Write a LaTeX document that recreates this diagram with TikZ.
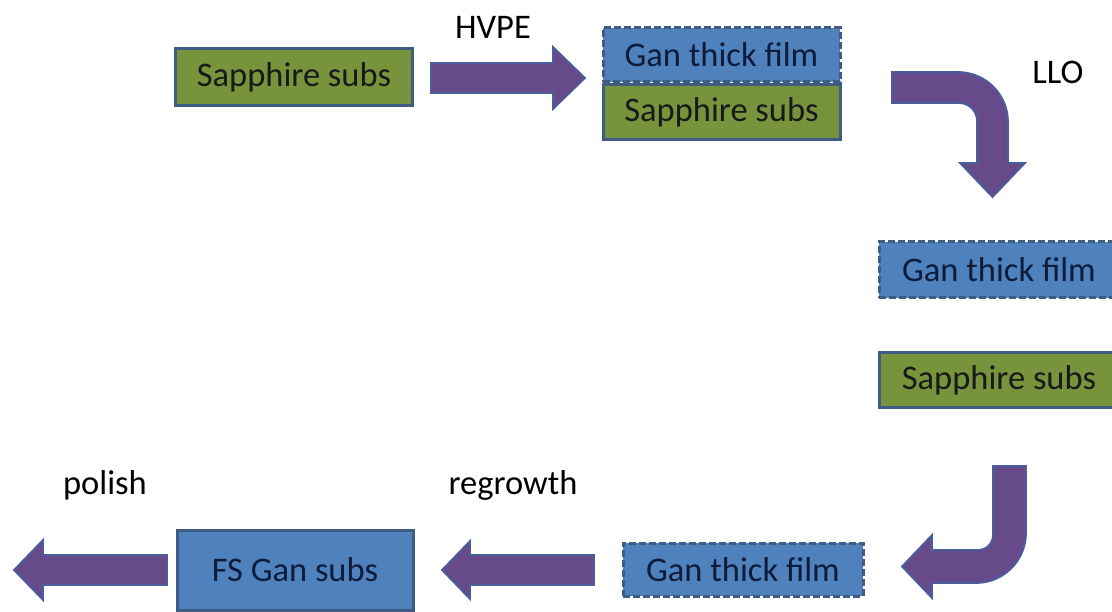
\documentclass[tikz,border=0pt]{standalone}
\usepackage{fontspec}
\setmainfont{Carlito}
\usepackage{tikz}
\usetikzlibrary{positioning}
\definecolor{subgreen}{HTML}{77933C}
\definecolor{filmblue}{HTML}{4F81BD}
\definecolor{boxedge}{HTML}{3F5C84}
\definecolor{arrowfill}{HTML}{664A8A}
\definecolor{arrowedge}{HTML}{4A5E9E}
\definecolor{filmtext}{HTML}{0E1C3C}

\begin{document}
\begin{tikzpicture}[
    x=1pt, y=-1pt,
    layer/.style={rectangle, draw=boxedge, line width=3pt, minimum width=237pt, inner sep=0pt, font=\fontsize{34.5}{40}\selectfont},
    sapphire/.style={layer, fill=subgreen, text=black!90, minimum height=55pt},
    film/.style={layer, fill=filmblue, text=filmtext, minimum height=54pt, dash pattern=on 7pt off 3pt},
    substrate/.style={layer, fill=filmblue, text=filmtext, minimum height=80pt},
    blockarrow/.style={fill=arrowfill, draw=arrowedge, line width=1.8pt, line join=miter},
    step label/.style={font=\fontsize{34.5}{40}\selectfont, text=black}
]
\clip (0,0) rectangle (1112,612);

% starting substrate
\node[sapphire, minimum height=57pt] (sapphireA) at (294,77.5) {Sapphire subs};

% after HVPE growth
\node[film] (filmA) at (721.5,55) {Gan thick film};
\node[sapphire, below=0pt of filmA] (sapphireB) {Sapphire subs};

% after laser lift-off
\node[film, minimum height=56pt, minimum width=240pt] (filmB) at (999,270) {Gan thick film};
\node[sapphire, minimum width=240pt, below=52pt of filmB] (sapphireC) {Sapphire subs};

% regrowth and final substrate
\node[film, minimum width=240pt, minimum height=53pt] (filmC) at (743,569.5) {Gan thick film};
\node[substrate, minimum width=236pt] (fsgan) at (295,570) {FS Gan subs};

% process labels
\node[step label] (hvpe) at (493,27) {HVPE};
\node[step label] (llo) at (1058,72) {LLO};
\node[step label] (regrowth) at (513,485) {regrowth};
\node[step label] (polish) at (105,485) {polish};

% block arrows
\draw[blockarrow] (431,63) -- (553,63) -- (553,47) -- (585,78) -- (553,109) -- (553,93) -- (431,93) -- cycle;
\draw[blockarrow] (892,72) -- (958,72) arc[start angle=-90, end angle=0, radius=50]
    -- (1008,163) -- (1025,163) -- (992.5,197) -- (960,163) -- (977,163) -- (977,121)
    arc[start angle=0, end angle=-90, radius=18] -- (892,103) -- cycle;
\draw[blockarrow] (993,466) -- (1026,466) -- (1026,533) arc[start angle=0, end angle=90, radius=50]
    -- (932,583) -- (932,598) -- (902,566.5) -- (932,535) -- (932,550) -- (978,550)
    arc[start angle=90, end angle=0, radius=15] -- cycle;
\draw[blockarrow] (594,555) -- (470,555) -- (470,541) -- (442,570) -- (470,599) -- (470,585) -- (594,585) -- cycle;
\draw[blockarrow] (167,555) -- (43,555) -- (43,540) -- (14,570) -- (43,600) -- (43,585) -- (167,585) -- cycle;

\end{tikzpicture}
\end{document}
